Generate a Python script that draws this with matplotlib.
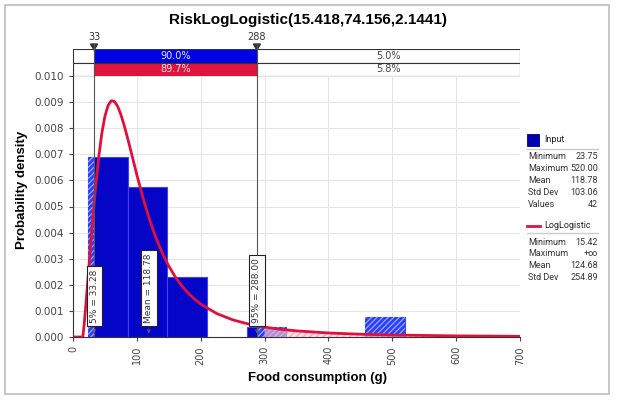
import numpy as np
import matplotlib.pyplot as plt
from matplotlib.patches import Rectangle, Polygon

# histogram of the input data (42 values, 8 bins)
bin_edges = [23.75, 85.78, 147.81, 209.84, 271.88, 333.91, 395.94, 457.97, 520.00]
bin_density = [0.006909, 0.005757, 0.002303, 0.0, 0.000384, 0.0, 0.0, 0.000768]

# fitted LogLogistic density
curve_x = [0, 15.4, 17.5, 20, 25, 30, 35, 40, 45, 50, 55, 60, 65, 70, 75, 80, 85, 90, 95,
           100, 110, 120, 130, 140, 150, 160, 170, 180, 190, 200, 225, 250, 275, 300, 325,
           350, 400, 450, 500, 600, 700]
curve_y = [0, 0, 0.000485, 0.00119, 0.002713, 0.004235, 0.005635, 0.006834, 0.007783,
           0.008461, 0.008877, 0.009052, 0.009023, 0.008832, 0.008519, 0.00812, 0.007668,
           0.007187, 0.006697, 0.006213, 0.005299, 0.004488, 0.003792, 0.003205, 0.002715,
           0.002308, 0.001971, 0.00169, 0.001457, 0.001262, 0.000899, 0.000658, 0.000493,
           0.000378, 0.000295, 0.0002345, 0.0001543, 0.0001065, 0.0000763, 0.0000428,
           0.0000262]

p5, p95, mean_in = 33.28, 288.00, 118.78
top_left, top_right = 33, 288
input_pct = ['90.0%', '5.0%']
fit_pct = ['89.7%', '5.8%']

input_stats = [('Minimum', '23.75'), ('Maximum', '520.00'), ('Mean', '118.78'),
               ('Std Dev', '103.06'), ('Values', '42')]
fit_stats = [('Minimum', '15.42'), ('Maximum', '+\u221e'), ('Mean', '124.68'),
             ('Std Dev', '254.89')]

W, H = 619, 401
fig = plt.figure(figsize=(W / 100, H / 100), dpi=100)
narrow = 'Liberation Sans'
panel = ['Roboto', 'DejaVu Sans']


def px(x, y):
    return x / W, 1 - y / H


# outer frame
fig.patches.append(Rectangle(px(5, 394), 604 / W, 389 / H, transform=fig.transFigure,
                             fill=False, edgecolor='#bdbdbd', lw=1.2))

ax = fig.add_axes([73 / W, 1 - 337 / H, 447 / W, 261 / H])
ax.set_xlim(0, 700)
ax.set_ylim(0, 0.010)
ax.set_xticks(range(0, 701, 100))
ax.set_yticks(np.arange(0, 0.0101, 0.001))
ax.set_yticklabels(['%.3f' % v for v in np.arange(0, 0.0101, 0.001)])
ax.grid(True, color='#e4e4e4', lw=0.7)
ax.set_axisbelow(True)
ax.tick_params(axis='x', labelrotation=90, labelsize=7, colors='#444444', length=3)
ax.tick_params(axis='y', labelsize=7.5, colors='#444444', length=3)
for s in ['top', 'right']:
    ax.spines[s].set_visible(False)
for s in ['left', 'bottom']:
    ax.spines[s].set_color('#333333')

blue = '#0505c8'
for i in range(len(bin_density)):
    l, r, h = bin_edges[i], bin_edges[i + 1], bin_density[i]
    if h == 0:
        continue
    ax.add_patch(Rectangle((l, 0), r - l, h, facecolor=blue, edgecolor='#4040ff', lw=0.8, zorder=2))
    # hatched parts outside the 5%-95% range
    if l < p5:
        ax.add_patch(Rectangle((l, 0), p5 - l, h, facecolor='#2a3cff', edgecolor='#8fa0ff',
                               hatch='//////', lw=0, zorder=2.5))
    if r > p95:
        hl = max(l, p95)
        ax.add_patch(Rectangle((hl, 0), r - hl, h, facecolor='#2a3cff', edgecolor='#8fa0ff',
                               hatch='//////', lw=0, zorder=2.5))

cx = np.array(curve_x)
cy = np.array(curve_y)
ax.fill_between(cx, 0, cy, where=cx >= p95, facecolor='#f6c8d2', edgecolor='#e88aa0',
                hatch='/////', lw=0, alpha=0.6, zorder=3)
ax.plot(cx, cy, color='#e0103c', lw=2, zorder=4)

# marker lines
for xv in [top_left, top_right]:
    ax.axvline(xv, color='#555555', lw=0.8, zorder=5)

# rotated value labels
for xv, txt in [(p5, '5% = 33.28'), (mean_in, 'Mean = 118.78'), (p95, '95% = 288.00')]:
    ax.text(xv, 0.00055, txt, rotation=90, ha='center', va='bottom', fontsize=6.5,
            color='#333333', zorder=6,
            bbox=dict(boxstyle='square,pad=0.35', facecolor='white', edgecolor='#222222', lw=0.8))
    ax.annotate('', xy=(xv, 0.00003), xytext=(xv, 0.00042), zorder=6,
                arrowprops=dict(arrowstyle='->', color='#666666', lw=0.6, mutation_scale=5))

fig.text(*px(22, 190), 'Probability density', rotation=90, ha='center', va='center',
         fontsize=9.5, fontweight='bold', family=narrow)
fig.text(*px(317, 378), 'Food consumption (g)', ha='center', va='center',
         fontsize=9.5, fontweight='bold', family=narrow)

# top percentage bars
tax = fig.add_axes([73 / W, 1 - 76 / H, 447 / W, 27 / H])
tax.set_xlim(0, 700)
tax.set_ylim(0, 2)
tax.axis('off')
for row, col, pct in [(1, '#0000e8', input_pct), (0, '#e0143c', fit_pct)]:
    tax.add_patch(Rectangle((0, row), 700, 1, facecolor='white', edgecolor='#333333', lw=0.8))
    tax.add_patch(Rectangle((top_left, row), top_right - top_left, 1, facecolor=col,
                            edgecolor='#333333', lw=0.8))
    tax.text((top_left + top_right) / 2, row + 0.5, pct[0], ha='center', va='center',
             fontsize=7, color='#e8e8e8')
    tax.text((top_right + 700) / 2, row + 0.5, pct[1], ha='center', va='center',
             fontsize=7, color='#444444')

for xv, lab in [(top_left, '33'), (top_right, '288')]:
    fx = (73 + xv * 447 / 700) / W
    fig.patches.append(Polygon([(fx - 3.5 / W, 1 - 44 / H), (fx + 3.5 / W, 1 - 44 / H),
                                (fx, 1 - 50 / H)], closed=True, transform=fig.transFigure,
                               facecolor='#333333', edgecolor='#333333'))
    fig.lines.append(plt.Line2D([fx, fx], [1 - 44 / H, 1 - 76 / H], transform=fig.transFigure,
                                color='#555555', lw=0.8))
    fig.text(fx, 1 - 42 / H, lab, ha='center', va='bottom', fontsize=7, color='#333333')

fig.text(*px(308, 20), 'RiskLogLogistic(15.418,74.156,2.1441)', ha='center', va='center',
         fontsize=11, fontweight='bold', family=narrow)

# side panel
fig.patches.append(Rectangle(px(527, 146), 12 / W, 12 / H, transform=fig.transFigure,
                             facecolor='#0000b0', edgecolor='#000080', lw=0.6))
fig.text(*px(544, 140), 'Input', fontsize=6.5, va='center', color='#222222', family=panel)
fig.lines.append(plt.Line2D([527 / W, 598 / W], [1 - 149 / H] * 2, transform=fig.transFigure,
                            color='#cccccc', lw=1))
for i, (k, v) in enumerate(input_stats):
    y = 157 + i * 11.8
    fig.text(*px(528, y), k, fontsize=6.5, va='center', color='#333333', family=panel)
    fig.text(*px(598, y), v, fontsize=6.5, va='center', ha='right', color='#333333', family=panel)

fig.lines.append(plt.Line2D([527 / W, 540 / W], [1 - 226 / H] * 2, transform=fig.transFigure,
                            color='#e0103c', lw=2))
fig.text(*px(544, 226), 'LogLogistic', fontsize=6.5, va='center', color='#222222', family=panel)
fig.lines.append(plt.Line2D([527 / W, 598 / W], [1 - 233 / H] * 2, transform=fig.transFigure,
                            color='#cccccc', lw=1))
for i, (k, v) in enumerate(fit_stats):
    y = 242 + i * 11.8
    fig.text(*px(528, y), k, fontsize=6.5, va='center', color='#333333', family=panel)
    fig.text(*px(598, y), v, fontsize=6.5, va='center', ha='right', color='#333333', family=panel)

fig.savefig('out.png', dpi=100)
